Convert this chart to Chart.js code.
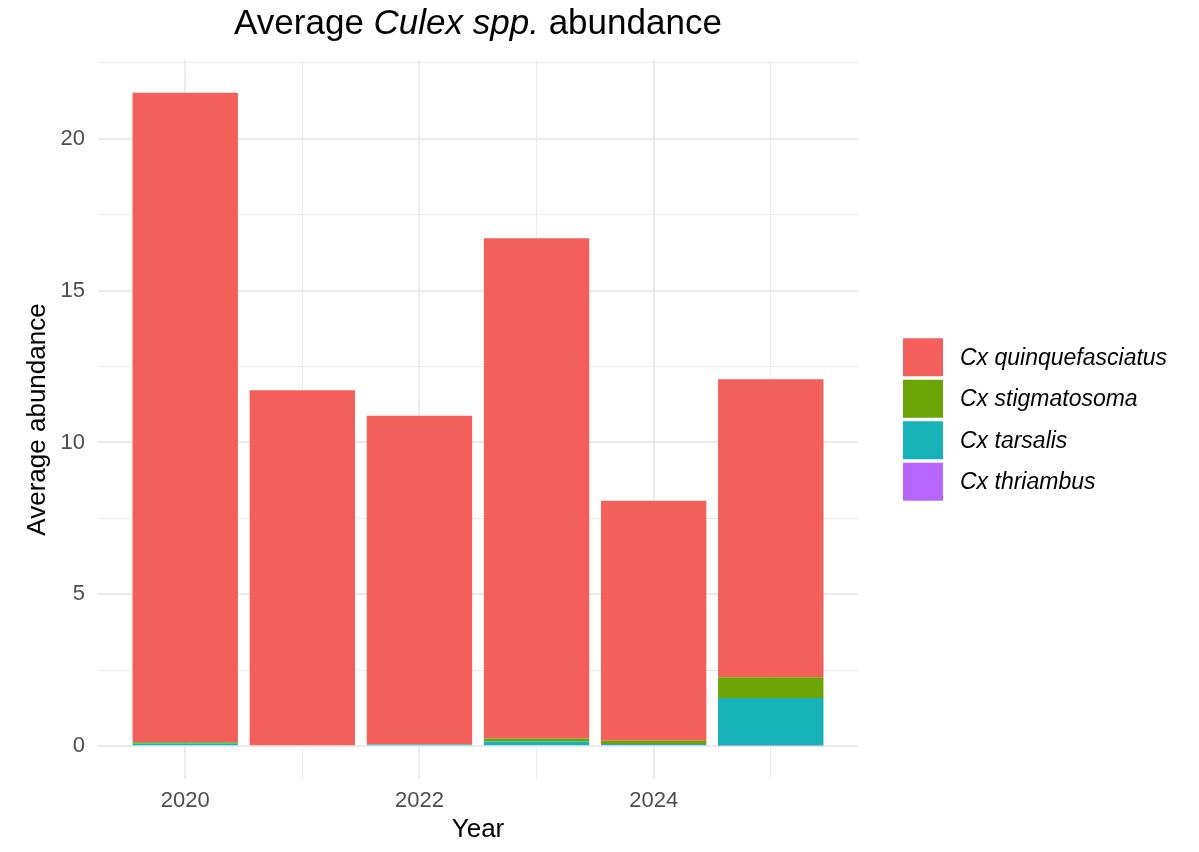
<!DOCTYPE html>
<html>
<head>
<meta charset="utf-8">
<script src="https://cdn.jsdelivr.net/npm/chart.js@4"></script>
<style>
  html, body { margin: 0; padding: 0; background: #ffffff; }
  canvas { display: block; }
</style>
</head>
<body>
<canvas id="grafica" width="1199" height="852"></canvas>
<script>
// Años (eje X continuo, como en ggplot)
const anios = [2020, 2021, 2022, 2023, 2024, 2025];

// Abundancia media por especie
const quinquefasciatus = [21.38, 11.72, 10.81, 16.46, 7.90, 9.81];
const stigmatosoma     = [0.04, 0.00, 0.01, 0.10, 0.10, 0.68];
const tarsalis         = [0.09, 0.00, 0.06, 0.16, 0.04, 1.56];
const thriambus        = [0.00, 0.00, 0.00, 0.00, 0.04, 0.03];

// Marcas de los ejes (las mayores llevan etiqueta)
const marcasX = [2020, 2021, 2022, 2023, 2024, 2025];
const marcasY = [0, 2.5, 5, 7.5, 10, 12.5, 15, 17.5, 20, 22.5];

const fuente = '"Liberation Sans", Arial, Helvetica, sans-serif';
const $grafica = document.querySelector("#grafica");

// Título con parte en cursiva
const tituloPlugin = {
  id: 'tituloMixto',
  afterDraw(chart) {
    const ctx = chart.ctx;
    const partes = [['Average ', 'normal'], ['Culex spp.', 'italic'], [' abundance', 'normal']];
    ctx.save();
    let total = 0;
    partes.forEach(p => {
      ctx.font = p[1] + ' 35px ' + fuente;
      total += ctx.measureText(p[0]).width;
    });
    let x = (chart.chartArea.left + chart.chartArea.right) / 2 - total / 2;
    ctx.fillStyle = '#000000';
    ctx.textBaseline = 'alphabetic';
    ctx.textAlign = 'left';
    partes.forEach(p => {
      ctx.font = p[1] + ' 35px ' + fuente;
      ctx.fillText(p[0], x, 34);
      x += ctx.measureText(p[0]).width;
    });
    ctx.restore();
  }
};

// Leyenda a la derecha, estilo ggplot (primera especie arriba)
const leyendaPlugin = {
  id: 'leyendaDerecha',
  afterDraw(chart) {
    const ctx = chart.ctx;
    const area = chart.chartArea;
    const items = chart.data.datasets.slice().reverse();
    const paso = 41.5, alto = 38, ancho = 40;
    const totalAlto = paso * (items.length - 1) + alto;
    const x0 = area.right + 45;
    let y0 = (area.top + area.bottom) / 2 - totalAlto / 2;
    ctx.save();
    ctx.font = 'italic 23px ' + fuente;
    ctx.textBaseline = 'middle';
    ctx.textAlign = 'left';
    items.forEach((d, i) => {
      const y = y0 + i * paso;
      ctx.fillStyle = d.backgroundColor;
      ctx.fillRect(x0, y, ancho, alto);
      ctx.fillStyle = '#000000';
      ctx.fillText(d.label, x0 + ancho + 17, y + alto / 2 + 1);
    });
    ctx.restore();
  }
};

new Chart($grafica, {
  type: 'bar',
  data: {
    labels: anios,
    datasets: [
      { label: 'Cx thriambus', data: thriambus, backgroundColor: '#B865FD' },
      { label: 'Cx tarsalis', data: tarsalis, backgroundColor: '#17B3B8' },
      { label: 'Cx stigmatosoma', data: stigmatosoma, backgroundColor: '#6AA405' },
      { label: 'Cx quinquefasciatus', data: quinquefasciatus, backgroundColor: '#F3605C' },
    ]
  },
  options: {
    responsive: false,
    animation: false,
    layout: { padding: { top: 60, right: 341, left: 0, bottom: 0 } },
    datasets: {
      bar: { barPercentage: 0.9, categoryPercentage: 1, borderWidth: 0 }
    },
    plugins: {
      legend: { display: false },
      tooltip: { enabled: false },
      title: { display: false }
    },
    scales: {
      x: {
        type: 'linear',
        stacked: true,
        offset: false,
        min: 2019.255,
        max: 2025.745,
        afterBuildTicks: s => { s.ticks = marcasX.map(v => ({ value: v })); },
        afterFit: s => { s.height = 73; },
        border: { display: false },
        grid: {
          offset: false,
          color: '#EBEBEB',
          lineWidth: c => (c.tick && c.tick.value % 2 === 0) ? 2 : 1,
          drawTicks: false
        },
        ticks: {
          padding: 9,
          color: '#4D4D4D',
          font: { size: 22, family: fuente },
          maxRotation: 0,
          autoSkip: false,
          callback: v => (v % 2 === 0) ? String(v) : ''
        },
        title: {
          display: true,
          text: 'Year',
          color: '#000000',
          font: { size: 26, family: fuente },
          padding: { top: 0, bottom: 7 }
        }
      },
      y: {
        stacked: true,
        min: -1.0755,
        max: 22.5855,
        afterBuildTicks: s => { s.ticks = marcasY.map(v => ({ value: v })); },
        afterFit: s => { s.width = 98; },
        border: { display: false },
        grid: {
          color: '#EBEBEB',
          lineWidth: c => (c.tick && c.tick.value % 5 === 0) ? 2 : 1,
          drawTicks: false
        },
        ticks: {
          padding: 13,
          color: '#4D4D4D',
          font: { size: 22, family: fuente },
          callback: v => (v % 5 === 0) ? String(v) : ''
        },
        title: {
          display: true,
          text: 'Average abundance',
          color: '#000000',
          font: { size: 26, family: fuente },
          padding: { top: 22, bottom: 0 }
        }
      }
    }
  },
  plugins: [tituloPlugin, leyendaPlugin]
});
</script>
</body>
</html>
